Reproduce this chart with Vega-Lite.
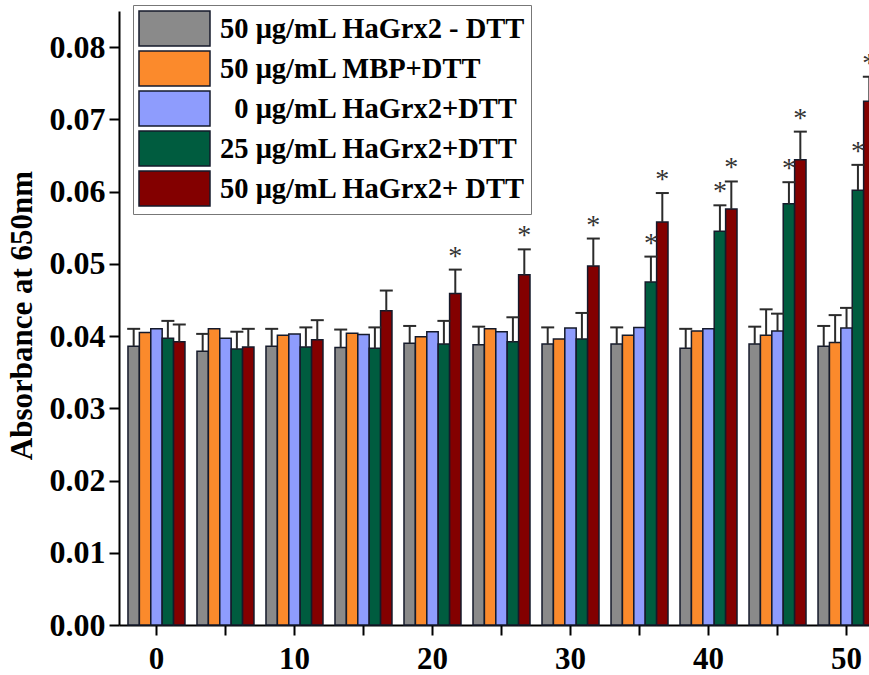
{
  "$schema": "https://vega.github.io/schema/vega-lite/v6.json",
  "width": 750,
  "height": 614,
  "autosize": "none",
  "padding": {"left": 119, "top": 11, "right": 0, "bottom": 50},
  "background": "white",
  "config": {"view": {"stroke": null}},
  "data": {"values": [
    {"time": 0, "s": "50 μg/mL HaGrx2 - DTT", "v": 0.0386, "hi": 0.0410, "sig": false},
    {"time": 0, "s": "50 μg/mL MBP+DTT", "v": 0.0405, "hi": null, "sig": false},
    {"time": 0, "s": "\u200b\u20070 μg/mL HaGrx2+DTT", "v": 0.0410, "hi": null, "sig": false},
    {"time": 0, "s": "25 μg/mL HaGrx2+DTT", "v": 0.0397, "hi": 0.0421, "sig": false},
    {"time": 0, "s": "50 μg/mL HaGrx2+ DTT", "v": 0.0392, "hi": 0.0416, "sig": false},
    {"time": 5, "s": "50 μg/mL HaGrx2 - DTT", "v": 0.0379, "hi": 0.0403, "sig": false},
    {"time": 5, "s": "50 μg/mL MBP+DTT", "v": 0.0410, "hi": null, "sig": false},
    {"time": 5, "s": "\u200b\u20070 μg/mL HaGrx2+DTT", "v": 0.0397, "hi": null, "sig": false},
    {"time": 5, "s": "25 μg/mL HaGrx2+DTT", "v": 0.0382, "hi": 0.0406, "sig": false},
    {"time": 5, "s": "50 μg/mL HaGrx2+ DTT", "v": 0.0385, "hi": 0.0410, "sig": false},
    {"time": 10, "s": "50 μg/mL HaGrx2 - DTT", "v": 0.0386, "hi": 0.0410, "sig": false},
    {"time": 10, "s": "50 μg/mL MBP+DTT", "v": 0.0401, "hi": null, "sig": false},
    {"time": 10, "s": "\u200b\u20070 μg/mL HaGrx2+DTT", "v": 0.0403, "hi": null, "sig": false},
    {"time": 10, "s": "25 μg/mL HaGrx2+DTT", "v": 0.0385, "hi": 0.0412, "sig": false},
    {"time": 10, "s": "50 μg/mL HaGrx2+ DTT", "v": 0.0395, "hi": 0.0422, "sig": false},
    {"time": 15, "s": "50 μg/mL HaGrx2 - DTT", "v": 0.0384, "hi": 0.0409, "sig": false},
    {"time": 15, "s": "50 μg/mL MBP+DTT", "v": 0.0404, "hi": null, "sig": false},
    {"time": 15, "s": "\u200b\u20070 μg/mL HaGrx2+DTT", "v": 0.0402, "hi": null, "sig": false},
    {"time": 15, "s": "25 μg/mL HaGrx2+DTT", "v": 0.0383, "hi": 0.0412, "sig": false},
    {"time": 15, "s": "50 μg/mL HaGrx2+ DTT", "v": 0.0435, "hi": 0.0463, "sig": false},
    {"time": 20, "s": "50 μg/mL HaGrx2 - DTT", "v": 0.0390, "hi": 0.0414, "sig": false},
    {"time": 20, "s": "50 μg/mL MBP+DTT", "v": 0.0399, "hi": null, "sig": false},
    {"time": 20, "s": "\u200b\u20070 μg/mL HaGrx2+DTT", "v": 0.0406, "hi": null, "sig": false},
    {"time": 20, "s": "25 μg/mL HaGrx2+DTT", "v": 0.0389, "hi": 0.0421, "sig": false},
    {"time": 20, "s": "50 μg/mL HaGrx2+ DTT", "v": 0.0459, "hi": 0.0492, "sig": true},
    {"time": 25, "s": "50 μg/mL HaGrx2 - DTT", "v": 0.0388, "hi": 0.0413, "sig": false},
    {"time": 25, "s": "50 μg/mL MBP+DTT", "v": 0.0410, "hi": null, "sig": false},
    {"time": 25, "s": "\u200b\u20070 μg/mL HaGrx2+DTT", "v": 0.0406, "hi": null, "sig": false},
    {"time": 25, "s": "25 μg/mL HaGrx2+DTT", "v": 0.0392, "hi": 0.0426, "sig": false},
    {"time": 25, "s": "50 μg/mL HaGrx2+ DTT", "v": 0.0485, "hi": 0.0520, "sig": true},
    {"time": 30, "s": "50 μg/mL HaGrx2 - DTT", "v": 0.0389, "hi": 0.0412, "sig": false},
    {"time": 30, "s": "50 μg/mL MBP+DTT", "v": 0.0396, "hi": null, "sig": false},
    {"time": 30, "s": "\u200b\u20070 μg/mL HaGrx2+DTT", "v": 0.0411, "hi": null, "sig": false},
    {"time": 30, "s": "25 μg/mL HaGrx2+DTT", "v": 0.0396, "hi": 0.0432, "sig": false},
    {"time": 30, "s": "50 μg/mL HaGrx2+ DTT", "v": 0.0497, "hi": 0.0535, "sig": true},
    {"time": 35, "s": "50 μg/mL HaGrx2 - DTT", "v": 0.0389, "hi": 0.0412, "sig": false},
    {"time": 35, "s": "50 μg/mL MBP+DTT", "v": 0.0401, "hi": null, "sig": false},
    {"time": 35, "s": "\u200b\u20070 μg/mL HaGrx2+DTT", "v": 0.0412, "hi": null, "sig": false},
    {"time": 35, "s": "25 μg/mL HaGrx2+DTT", "v": 0.0475, "hi": 0.0510, "sig": true},
    {"time": 35, "s": "50 μg/mL HaGrx2+ DTT", "v": 0.0558, "hi": 0.0598, "sig": true},
    {"time": 40, "s": "50 μg/mL HaGrx2 - DTT", "v": 0.0383, "hi": 0.0410, "sig": false},
    {"time": 40, "s": "50 μg/mL MBP+DTT", "v": 0.0407, "hi": null, "sig": false},
    {"time": 40, "s": "\u200b\u20070 μg/mL HaGrx2+DTT", "v": 0.0410, "hi": null, "sig": false},
    {"time": 40, "s": "25 μg/mL HaGrx2+DTT", "v": 0.0545, "hi": 0.0581, "sig": true},
    {"time": 40, "s": "50 μg/mL HaGrx2+ DTT", "v": 0.0576, "hi": 0.0614, "sig": true},
    {"time": 45, "s": "50 μg/mL HaGrx2 - DTT", "v": 0.0389, "hi": 0.0413, "sig": false},
    {"time": 45, "s": "50 μg/mL MBP+DTT", "v": 0.0401, "hi": 0.0437, "sig": false},
    {"time": 45, "s": "\u200b\u20070 μg/mL HaGrx2+DTT", "v": 0.0407, "hi": 0.0431, "sig": false},
    {"time": 45, "s": "25 μg/mL HaGrx2+DTT", "v": 0.0583, "hi": 0.0613, "sig": true},
    {"time": 45, "s": "50 μg/mL HaGrx2+ DTT", "v": 0.0644, "hi": 0.0683, "sig": true},
    {"time": 50, "s": "50 μg/mL HaGrx2 - DTT", "v": 0.0386, "hi": 0.0414, "sig": false},
    {"time": 50, "s": "50 μg/mL MBP+DTT", "v": 0.0391, "hi": 0.0429, "sig": false},
    {"time": 50, "s": "\u200b\u20070 μg/mL HaGrx2+DTT", "v": 0.0411, "hi": 0.0439, "sig": false},
    {"time": 50, "s": "25 μg/mL HaGrx2+DTT", "v": 0.0602, "hi": 0.0637, "sig": true},
    {"time": 50, "s": "50 μg/mL HaGrx2+ DTT", "v": 0.0725, "hi": 0.0759, "sig": true}
  ]},
  "encoding": {
    "x": {
      "field": "time", "type": "ordinal",
      "scale": {"paddingInner": 0.174, "paddingOuter": 0.13, "range": [0, 765]},
      "axis": {
        "title": null,
        "labelAngle": 0,
        "labelExpr": "datum.value % 10 == 0 ? datum.label : ''",
        "labelFont": "Liberation Serif", "labelFontWeight": "bold", "labelFontSize": 31, "labelColor": "black",
        "labelPadding": 9, "labelOverlap": false,
        "tickSize": 10, "tickWidth": 2, "tickColor": "black",
        "domainColor": "black", "domainWidth": 2
      }
    },
    "xOffset": {
      "field": "s", "type": "nominal",
      "sort": ["50 μg/mL HaGrx2 - DTT", "50 μg/mL MBP+DTT", "\u200b\u20070 μg/mL HaGrx2+DTT", "25 μg/mL HaGrx2+DTT", "50 μg/mL HaGrx2+ DTT"],
      "scale": {"paddingInner": 0, "paddingOuter": 0}
    }
  },
  "layer": [
    {
      "mark": {"type": "bar", "stroke": "#151a2b", "strokeWidth": 1.5},
      "encoding": {
        "y": {
          "field": "v", "type": "quantitative", "title": "Absorbance at 650nm",
          "scale": {"domain": [0, 0.085], "nice": false, "zero": true},
          "axis": {
            "values": [0, 0.005, 0.01, 0.015, 0.02, 0.025, 0.03, 0.035, 0.04, 0.045, 0.05, 0.055, 0.06, 0.065, 0.07, 0.075, 0.08, 0.085],
            "labelExpr": "abs(datum.value*100 - round(datum.value*100)) < 0.01 ? format(datum.value, '.2f') : ''",
            "tickSize": {"condition": {"test": "abs(datum.value*100 - round(datum.value*100)) < 0.01", "value": 10}, "value": 6},
            "labelFont": "Liberation Serif", "labelFontWeight": "bold", "labelFontSize": 32, "labelColor": "black",
            "labelPadding": 4, "labelOverlap": false, "labelFlush": false,
            "tickWidth": 2, "tickColor": "black", "domainColor": "black", "domainWidth": 2, "grid": false,
            "titleFont": "Liberation Serif", "titleFontWeight": "bold", "titleFontSize": 31, "titleColor": "black",
            "titleX": -97, "titleY": 304, "titleAngle": -90, "titleAlign": "center", "titleBaseline": "middle"
          }
        },
        "color": {
          "field": "s", "type": "nominal",
          "sort": ["50 μg/mL HaGrx2 - DTT", "50 μg/mL MBP+DTT", "\u200b\u20070 μg/mL HaGrx2+DTT", "25 μg/mL HaGrx2+DTT", "50 μg/mL HaGrx2+ DTT"],
          "scale": {"range": ["#8a8a8a", "#fb8a2c", "#8e9cfd", "#005c3f", "#830000"]},
          "legend": {
            "orient": "none", "legendX": 14, "legendY": -6, "title": null,
            "symbolType": "M-1,-1H3.057V1H-1Z", "symbolSize": 1225,
            "symbolStrokeColor": "#151a2b", "symbolStrokeWidth": 1.5, "symbolOpacity": 1,
            "labelFont": "Liberation Serif", "labelFontWeight": "bold", "labelFontSize": 28.5, "labelColor": "black",
            "labelOffset": 45, "labelLimit": 0, "rowPadding": -1, "padding": 5,
            "strokeColor": "#777777", "fillColor": "white"
          }
        }
      }
    },
    {
      "transform": [{"filter": "datum.hi != null"}],
      "mark": {"type": "rule", "color": "#2b2b2b", "strokeWidth": 2},
      "encoding": {
        "y": {"field": "v", "type": "quantitative", "title": "Absorbance at 650nm"},
        "y2": {"field": "hi"}
      }
    },
    {
      "transform": [{"filter": "datum.hi != null"}],
      "mark": {"type": "tick", "orient": "horizontal", "color": "#2b2b2b", "thickness": 2, "size": 13, "opacity": 1},
      "encoding": {
        "y": {"field": "hi", "type": "quantitative", "title": "Absorbance at 650nm"}
      }
    },
    {
      "transform": [{"filter": "datum.sig"}],
      "mark": {"type": "text", "text": "*", "font": "Liberation Serif", "fontSize": 28, "dy": -13, "color": "#333333"},
      "encoding": {
        "y": {"field": "hi", "type": "quantitative", "title": "Absorbance at 650nm"}
      }
    }
  ]
}
